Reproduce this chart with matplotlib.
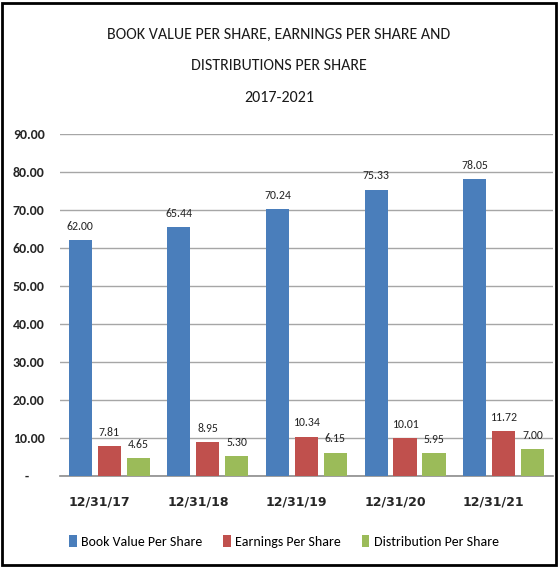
import matplotlib.pyplot as plt
import numpy as np
from matplotlib.patches import Rectangle

dates = ["12/31/17", "12/31/18", "12/31/19", "12/31/20", "12/31/21"]
book_value = [62.00, 65.44, 70.24, 75.33, 78.05]
earnings = [7.81, 8.95, 10.34, 10.01, 11.72]
distribution = [4.65, 5.30, 6.15, 5.95, 7.00]
series_names = ["Book Value Per Share", "Earnings Per Share", "Distribution Per Share"]
y_ticks = [0, 10, 20, 30, 40, 50, 60, 70, 80, 90]
y_tick_labels = ["-     ", "10.00", "20.00", "30.00", "40.00", "50.00", "60.00", "70.00", "80.00", "90.00"]
title_lines = ["BOOK VALUE PER SHARE, EARNINGS PER SHARE AND", "DISTRIBUTIONS PER SHARE", "2017-2021"]

colors = ["#4a7ebb", "#c0504d", "#9bbb59"]
calibri = ["Carlito", "DejaVu Sans"]

fig = plt.figure(figsize=(5.58, 5.67), dpi=100)
ax = fig.add_axes([0.1075, 0.1605, 0.8835, 0.6032])

x = np.arange(len(dates))
width = 0.235
offset = 0.294
for i, (vals, name) in enumerate(zip([book_value, earnings, distribution], series_names)):
    pos = x + (i - 1) * offset
    ax.bar(pos, vals, width, color=colors[i], label=name, zorder=3)
    # value labels above the bars
    for xp, v in zip(pos, vals):
        ax.annotate("%.2f" % v, (xp, v), xytext=(0, 6), textcoords="offset points",
                    ha="center", va="bottom", fontsize=8.5, family=calibri, color="#262626")

ax.set_xlim(-0.5, 4.5)
ax.set_ylim(0, 90)
ax.set_yticks(y_ticks)
ax.set_yticklabels(y_tick_labels, family=calibri, fontsize=10, fontweight="bold", color="#262626")
ax.set_xticks(x - 0.1)
ax.set_xticklabels(dates, fontsize=9, fontweight="bold", color="#262626")
ax.tick_params(axis="y", length=0, pad=11)
ax.tick_params(axis="x", length=0, pad=14)
ax.yaxis.grid(True, color="#a6a6a6", linewidth=1.0, zorder=0)
ax.set_axisbelow(True)
for s in ["top", "right", "left"]:
    ax.spines[s].set_visible(False)
ax.spines["bottom"].set_color("#8c8c8c")
ax.spines["bottom"].set_linewidth(1.2)

for k, line in enumerate(title_lines):
    fig.text(0.5, 0.938 - k * 0.055, line, ha="center", va="center", fontsize=11.5,
             family=calibri, color="#1a1a1a")

fig.legend(loc="center", bbox_to_anchor=(0.509, 0.045), ncol=3, frameon=False,
           prop={"family": calibri, "size": 10}, handlelength=0.55, handleheight=0.9,
           handletextpad=0.3, columnspacing=1.5)

fig.patches.append(Rectangle((0.004, 0.003), 0.992, 0.992, transform=fig.transFigure,
                             fill=False, edgecolor="black", linewidth=2))

fig.savefig("out.png", dpi=100)
